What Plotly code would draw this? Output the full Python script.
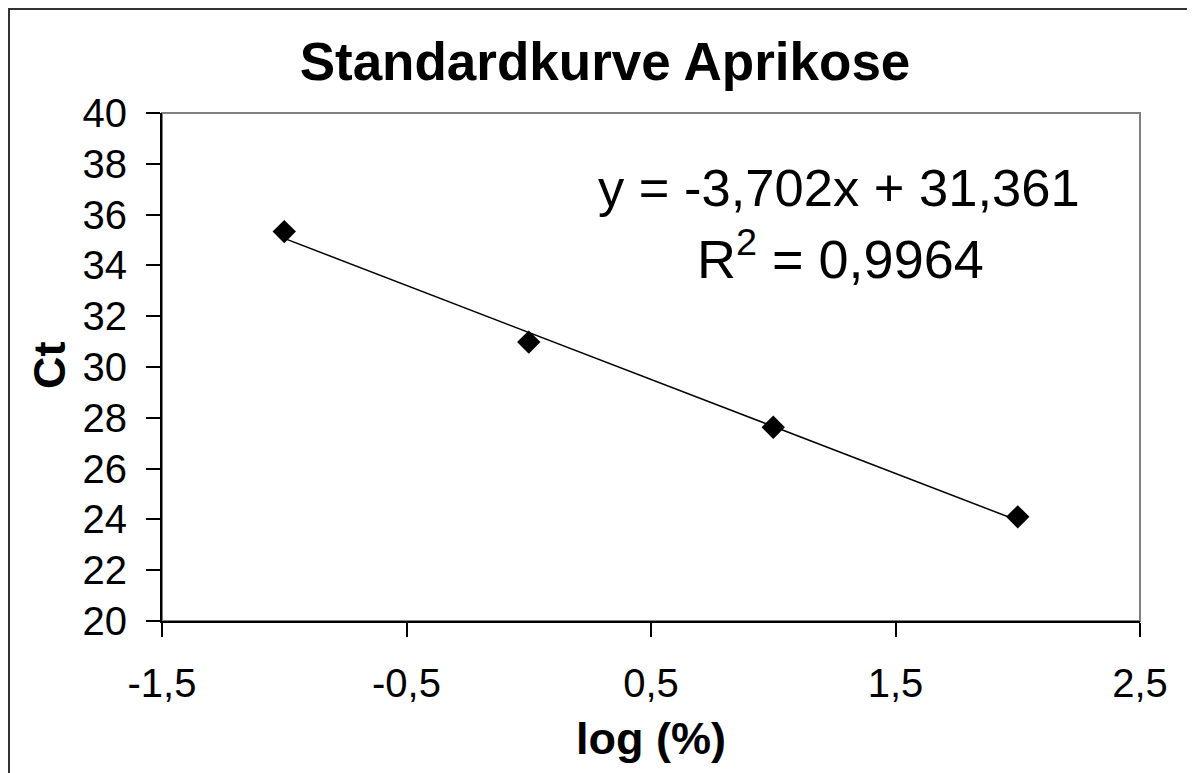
import plotly.graph_objects as go

# Data
log_percent = [-1, 0, 1, 2]
ct_values = [35.33, 30.98, 27.63, 24.10]

# Trend line coefficients (as displayed)
slope = -3.702
intercept = 31.361
r_squared = "0,9964"

x_ticks = [-1.5, -0.5, 0.5, 1.5, 2.5]
x_tick_labels = ["-1,5", "-0,5", "0,5", "1,5", "2,5"]
y_ticks = list(range(20, 41, 2))

trend_x = [min(log_percent), max(log_percent)]
trend_y = [slope * x + intercept for x in trend_x]

FONT = "Arial, Liberation Sans, sans-serif"

# page offset (browser body margin)
OFF = 8

fig = go.Figure()
fig.add_trace(go.Scatter(
    x=trend_x, y=trend_y, mode="lines",
    line=dict(color="black", width=1.5), showlegend=False, hoverinfo="skip"))
fig.add_trace(go.Scatter(
    x=log_percent, y=ct_values, mode="markers",
    marker=dict(symbol="diamond", size=18, color="black"), showlegend=False))

W, H = 1195 - OFF, 773 - OFF
L, T = 162 - OFF, 113 - OFF
R = W - (1140 - OFF)
B = H - (621 - OFF)
pw = W - L - R
ph = H - T - B

def px_x(p):
    return (p - OFF - L) / pw

def px_y(p):
    return (H - B - (p - OFF)) / ph

fig.update_layout(
    width=W, height=H,
    margin=dict(l=L, r=R, t=T, b=B, pad=0),
    paper_bgcolor="white", plot_bgcolor="white",
    separators=",.",
    font=dict(family=FONT, color="black"),
    title=dict(text="<b>Standardkurve Aprikose</b>", font=dict(size=53, family=FONT, color="black"),
               xref="paper", x=px_x(605), xanchor="center",
               yref="container", y=1 - (61 - OFF) / H, yanchor="middle"),
    xaxis=dict(range=[-1.5, 2.5], tickvals=x_ticks, ticktext=x_tick_labels,
               showgrid=False, zeroline=False, showline=True, linecolor="black", linewidth=2,
               ticks="outside", ticklen=14, tickwidth=2, tickcolor="black",
               tickfont=dict(size=40, family=FONT, color="black"), ticklabelstandoff=12),
    yaxis=dict(range=[20, 40], tickvals=y_ticks,
               showgrid=False, zeroline=False, showline=True, linecolor="black", linewidth=2,
               ticks="outside", ticklen=14, tickwidth=2, tickcolor="black",
               tickfont=dict(size=40, family=FONT, color="black"), ticklabelstandoff=11),
    shapes=[
        dict(type="rect", xref="paper", yref="paper", x0=0, x1=1, y0=0, y1=1,
             line=dict(color="#808080", width=2), layer="below"),
        dict(type="rect", xref="paper", yref="paper", x0=px_x(9), x1=px_x(1201),
             y0=px_y(790), y1=px_y(9), line=dict(color="#333333", width=2), layer="below"),
    ],
    annotations=[
        dict(text="<b>Ct</b>", textangle=-90,
             xref="paper", yref="paper", x=px_x(49), y=px_y(366),
             xanchor="center", yanchor="middle", showarrow=False,
             font=dict(size=45, family=FONT, color="black")),
        dict(text="<b>log (%)</b>",
             xref="paper", yref="paper", x=px_x(651), y=px_y(738),
             xanchor="center", yanchor="middle", showarrow=False,
             font=dict(size=45, family=FONT, color="black")),
        dict(text=f"y = {slope:.3f}x + {intercept:.3f}".replace(".", ","),
             xref="paper", yref="paper", x=px_x(839), y=px_y(187),
             xanchor="center", yanchor="middle", showarrow=False,
             font=dict(size=52.5, family=FONT, color="black")),
        dict(text=f"R<sup>2</sup> = {r_squared}",
             xref="paper", yref="paper", x=px_x(840), y=px_y(255),
             xanchor="center", yanchor="middle", showarrow=False,
             font=dict(size=54, family=FONT, color="black")),
    ],
)

fig.write_html("out.html")
